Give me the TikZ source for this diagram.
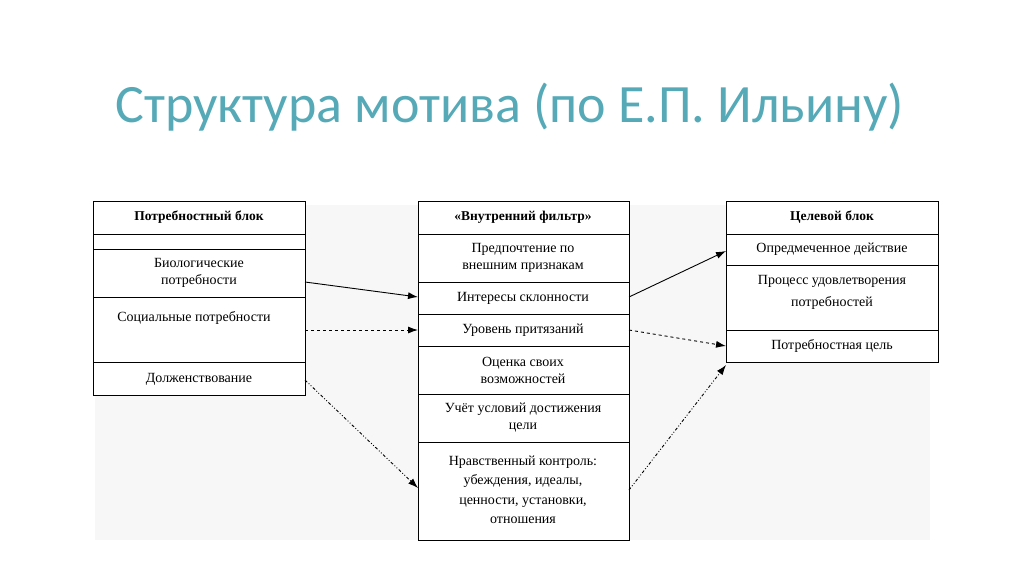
\documentclass[tikz,border=0pt]{standalone}
\usepackage{fontspec}
\setmainfont{Liberation Serif}
\newfontfamily\titlefont{Carlito}
\usetikzlibrary{arrows.meta}
\definecolor{ttl}{RGB}{86,170,184}
\begin{document}
\begin{tikzpicture}[x=1pt,y=-1pt,
  cell/.style={draw,line width=0.9pt,inner sep=0pt},
  txt/.style={font=\fontsize{14}{17}\selectfont,align=center},
  bold/.style={font=\bfseries\fontsize{13.5}{16}\selectfont},
  arr/.style={line width=0.9pt,-{Latex[length=10pt,width=7pt]}}]
\useasboundingbox[fill=white] (0,0) rectangle (1024,574);
\fill[gray!6] (95,205) rectangle (930,540);
\node[font=\titlefont\fontsize{54}{58}\selectfont,text=ttl] (title) at (510,107) {Структура мотива (по Е.П. Ильину)};
% left block
\foreach \a/\b in {201/234,234/249,249/297,297/362,362/395}{\draw[cell,fill=white] (93,\a) rectangle (305,\b);}
\node[bold] (l0) at (199,217) {Потребностный блок};
\node[txt] (l1) at (199,273) {Биологические\\потребности};
\node[txt] (l2) at (194,318) {Социальные потребности};
\node[txt] (l3) at (199,379) {Долженствование};
\coordinate (lb) at (305,282); \coordinate (ls) at (305,330); \coordinate (ld) at (305,380);
% middle block
\foreach \a/\b in {201/234,234/282,282/314,314/346,346/394,394/442,442/540}{\draw[cell,fill=white] (418,\a) rectangle (629,\b);}
\node[bold] (m0) at (523,217) {«Внутренний фильтр»};
\node[txt] (m1) at (523,258) {Предпочтение по\\внешним признакам};
\node[txt] (m2) at (523,298) {Интересы склонности};
\node[txt] (m3) at (523,330) {Уровень притязаний};
\node[txt] (m4) at (523,370) {Оценка своих\\возможностей};
\node[txt] (m5) at (523,418) {Учёт условий достижения\\цели};
\node[txt,font=\fontsize{14}{19.5}\selectfont] (m6) at (523,490) {Нравственный контроль:\\убеждения, идеалы,\\ценности, установки,\\отношения};
\coordinate (mbi) at (418,297); \coordinate (msi) at (418,330); \coordinate (mdi) at (418,488);
\coordinate (mbo) at (629,297); \coordinate (mso) at (629,330); \coordinate (mdo) at (629,490);
% right block
\foreach \a/\b in {201/234,234/265,265/330,330/362}{\draw[cell,fill=white] (726,\a) rectangle (938,\b);}
\node[bold] (r0) at (832,217) {Целевой блок};
\node[txt] (r1) at (832,249) {Опредмеченное действие};
\node[txt,font=\fontsize{14}{22}\selectfont] (r2) at (832,292) {Процесс удовлетворения\\потребностей};
\node[txt] (r3) at (832,346) {Потребностная цель};
\coordinate (rb) at (726,251); \coordinate (rs) at (726,346); \coordinate (rd) at (726,365);
% arrows
\draw[arr] (lb) -- (mbi);
\draw[arr,dashed] (ls) -- (msi);
\draw[arr,dash dot dot] (ld) -- (mdi);
\draw[arr] (mbo) -- (rb);
\draw[arr,dashed] (mso) -- (rs);
\draw[arr,dash dot dot] (mdo) -- (rd);
\end{tikzpicture}
\end{document}
